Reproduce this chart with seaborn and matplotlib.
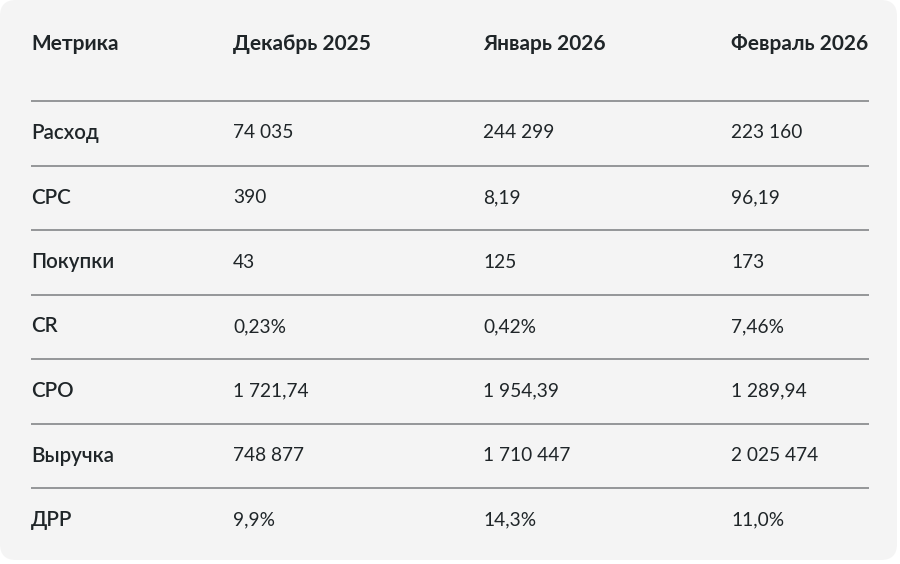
import matplotlib
matplotlib.use("Agg")
import matplotlib.pyplot as plt
from matplotlib.patches import FancyBboxPatch
import seaborn as sns

# table content
columns = ["Метрика", "Декабрь 2025", "Январь 2026", "Февраль 2026"]
metrics = ["Расход", "CPC", "Покупки", "CR", "CPO", "Выручка", "ДРР"]
dec_2025 = ["74 035", "390", "43", "0,23%", "1 721,74", "748 877", "9,9%"]
jan_2026 = ["244 299", "8,19", "125", "0,42%", "1 954,39", "1 710 447", "14,3%"]
feb_2026 = ["223 160", "96,19", "173", "7,46%", "1 289,94", "2 025 474", "11,0%"]

sns.set_theme(style="white")
plt.rcParams["font.family"] = ["Lato", "DejaVu Sans"]

text_color = "#1f2528"
line_color = "#8c8f91"

fig = plt.figure(figsize=(9, 5.64), dpi=100)
ax = fig.add_axes([0, 0, 1, 1])
ax.set_xlim(0, 900)
ax.set_ylim(564, 0)
ax.axis("off")

# rounded light panel
panel = FancyBboxPatch((0, 0), 897, 560, boxstyle="round,pad=0,rounding_size=16",
                       facecolor="#f4f4f4", edgecolor="none", zorder=0)
ax.add_patch(panel)

col_x = [31, 233, 483, 731]
header_y = 44
row_y0 = 133
row_step = 64.5
line_y0 = 101

for x, name in zip(col_x, columns):
    ax.text(x, header_y, name, fontsize=15, fontweight="bold",
            color=text_color, va="center", ha="left")

line_ys = [line_y0 + row_step * i for i in range(len(metrics))]
ax.hlines(line_ys, col_x[0], 869, color=line_color, lw=1.3, zorder=1)

for i, m in enumerate(metrics):
    y = row_y0 + row_step * i
    ax.text(col_x[0], y, m, fontsize=14.8, fontweight="semibold",
            color=text_color, va="center", ha="left")
    for x, col in zip(col_x[1:], [dec_2025, jan_2026, feb_2026]):
        ax.text(x, y, col[i], fontsize=13.8, color=text_color,
                va="center", ha="left")

fig.savefig("out.png", dpi=100, facecolor="white")
